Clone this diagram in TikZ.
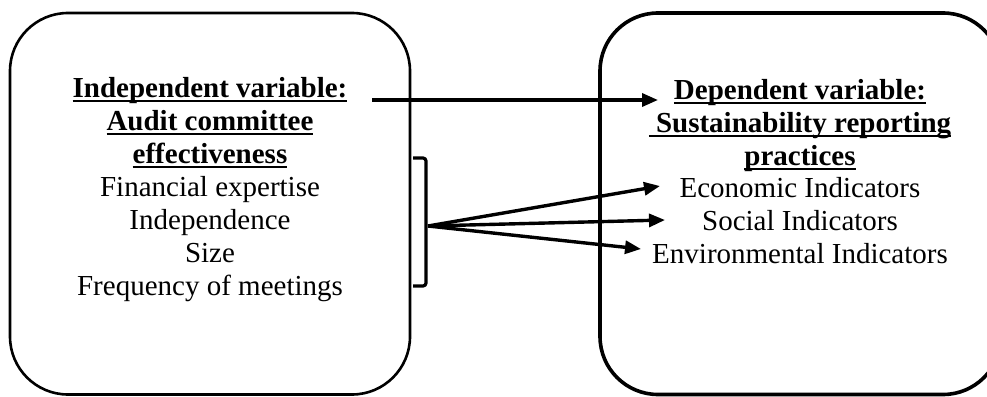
\documentclass[tikz,border=0pt]{standalone}
\usepackage{fontspec}
\setmainfont{Liberation Serif}
\usetikzlibrary{arrows.meta}
\newcommand\ulx[1]{\setbox0\hbox{#1}\rlap{\rule[-5pt]{\wd0}{2pt}}\box0}
\tikzset{
  box/.style={draw=black, rounded corners=58pt},
  txt/.style={anchor=base, inner sep=0pt, font=\fontsize{29}{33}\selectfont},
  arr/.style={draw=black, line width=3.4pt, -{Triangle[length=16pt,width=13pt]}},
}
\begin{document}
\begin{tikzpicture}[x=1pt,y=-1pt]
\useasboundingbox (0,0) rectangle (987,396);
\clip (0,0) rectangle (987,396);
\path[box, line width=2.6pt] (10,13) rectangle (410,394.5);
\path[box, line width=3.6pt] (600,13) rectangle (1001,394.5);
% left texts
\node[txt] (l1) at (210,97) {\bfseries\ulx{Independent variable:}};
\node[txt] (l2) at (210,130) {\bfseries\ulx{Audit committee}};
\node[txt] (l3) at (210,163) {\bfseries\ulx{effectiveness}};
\node[txt] (l4) at (210,196) {Financial expertise};
\node[txt] (l5) at (210,229) {Independence};
\node[txt] (l6) at (210,262) {Size};
\node[txt] (l7) at (210,295) {Frequency of meetings};
% right texts
\node[txt] (r1) at (800,99) {\bfseries\ulx{Dependent variable:}};
\node[txt] (r2) at (800,132) {\bfseries\ulx{\ Sustainability reporting}};
\node[txt] (r3) at (800,165) {\bfseries\ulx{practices}};
\node[txt] (r4) at (800,197) {Economic Indicators};
\node[txt] (r5) at (800,230) {Social Indicators};
\node[txt] (r6) at (800,263) {Environmental Indicators};
% main arrow
\coordinate (ms) at (372,100);
\coordinate (me) at (658,100);
\path[arr] (ms) -- (me);
% bracket
\coordinate (bt) at (413,158);
\coordinate (bb) at (413,286);
\coordinate (bo) at (428,226);
\draw[line width=3.2pt, rounded corners=3pt] (bt) -- (426,158) -- (426,286) -- (bb);
\coordinate (t1) at (660,186);
\coordinate (t2) at (665,220);
\coordinate (t3) at (641,249);
\path[arr] (bo) -- (t1);
\path[arr] (bo) -- (t2);
\path[arr] (bo) -- (t3);
\end{tikzpicture}
\end{document}
